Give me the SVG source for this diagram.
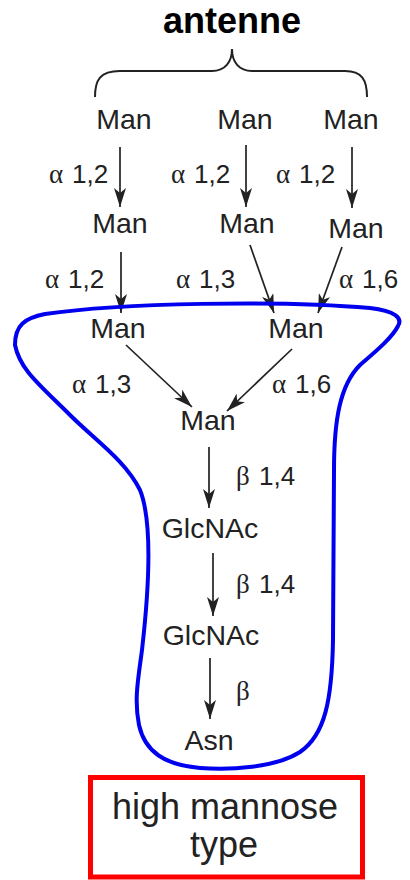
<svg xmlns="http://www.w3.org/2000/svg" width="410" height="880" viewBox="0 0 410 880">
<defs>
<style>
.n{font-family:"Liberation Sans",Arial,sans-serif;font-size:28.5px;fill:#222;text-anchor:middle}
.b{font-size:36px}
.l{font-family:"Liberation Sans",Arial,sans-serif;font-size:26px;fill:#222}
.g{font-family:"Liberation Serif","Times New Roman",serif;font-size:27px}
.c line{stroke:#222;stroke-width:1.7;marker-end:url(#ah)}
</style>
<marker id="ah" viewBox="0 0 19 12" refX="19" refY="6" markerWidth="19" markerHeight="12" markerUnits="userSpaceOnUse" orient="auto">
<path d="M0,0 L19,6 L0,12 L5,6 z" fill="#222"/>
</marker>
</defs>
<rect width="410" height="880" fill="#fff"/>
<g id="title">
<text x="232" y="33" font-family="Liberation Sans,Arial,sans-serif" font-weight="bold" font-size="36" fill="#000" text-anchor="middle">antenne</text>
<path d="M95,97 C95,80 100,71 120,71 L212,71 C225,71 232,62 232,49 C232,62 239,71 252,71 L345,71 C362,71 367,80 367,97" fill="none" stroke="#222" stroke-width="2"/>
</g>
<g id="man1a"><text class="n" x="124" y="129">Man</text></g>
<g id="man1b"><text class="n" x="245" y="129">Man</text></g>
<g id="man1c"><text class="n" x="351" y="129">Man</text></g>
<g id="man2a"><text class="n" x="120" y="233">Man</text></g>
<g id="man2b"><text class="n" x="247" y="233">Man</text></g>
<g id="man2c"><text class="n" x="356" y="238">Man</text></g>
<g id="man3a"><text class="n" x="118" y="338">Man</text></g>
<g id="man3b"><text class="n" x="296" y="338">Man</text></g>
<g id="man4"><text class="n" x="208" y="430">Man</text></g>
<g id="glc1"><text class="n" x="210" y="538">GlcNAc</text></g>
<g id="glc2"><text class="n" x="211" y="645">GlcNAc</text></g>
<g id="asn"><text class="n" x="209" y="750">Asn</text></g>
<g id="labels">
<text class="l" x="49" y="183"><tspan class="g">α</tspan><tspan x="72">1,2</tspan></text>
<text class="l" x="171" y="183"><tspan class="g">α</tspan><tspan x="194">1,2</tspan></text>
<text class="l" x="276" y="183"><tspan class="g">α</tspan><tspan x="299">1,2</tspan></text>
<text class="l" x="45" y="288"><tspan class="g">α</tspan><tspan x="68">1,2</tspan></text>
<text class="l" x="176" y="288"><tspan class="g">α</tspan><tspan x="199">1,3</tspan></text>
<text class="l" x="339" y="288"><tspan class="g">α</tspan><tspan x="362">1,6</tspan></text>
<text class="l" x="72" y="393"><tspan class="g">α</tspan><tspan x="95">1,3</tspan></text>
<text class="l" x="272" y="393"><tspan class="g">α</tspan><tspan x="295">1,6</tspan></text>
<text class="l" x="236" y="485"><tspan class="g">β</tspan><tspan x="259">1,4</tspan></text>
<text class="l" x="236" y="593"><tspan class="g">β</tspan><tspan x="259">1,4</tspan></text>
<text class="l" x="236" y="700"><tspan class="g">β</tspan></text>
</g>
<g id="connectors" class="c">
<line x1="120" y1="147" x2="120" y2="207"/>
<line x1="246" y1="145" x2="246" y2="207"/>
<line x1="352" y1="147" x2="352" y2="208"/>
<line x1="121" y1="252" x2="121" y2="313"/>
<line x1="250" y1="245" x2="274" y2="313"/>
<line x1="342" y1="247" x2="318" y2="313"/>
<line x1="126" y1="345" x2="192" y2="407"/>
<line x1="292" y1="349" x2="227" y2="411"/>
<line x1="209" y1="447" x2="209" y2="508"/>
<line x1="213" y1="553" x2="213" y2="616"/>
<line x1="210" y1="658" x2="210" y2="719"/>
</g>
<g id="highmannose">
<path d="M15,345 C15,325 25,318 45,314 C120,303 280,300 370,308 C395,311 403,318 398,326 C392,338 375,352 360,365 C340,385 334,420 334,470 L333,640 C332,700 325,735 300,752 C275,768 230,770 200,768 C165,765 145,752 139,725 C134,700 138,680 142,650 C150,580 152,520 140,490 C125,460 95,440 70,415 C40,385 20,370 15,345 Z" fill="none" stroke="#0000ee" stroke-width="4"/>
</g>
<g id="typebox">
<rect x="90.5" y="777.5" width="272" height="99.5" fill="none" stroke="#ff0000" stroke-width="5"/>
<text class="n b" x="225" y="819">high mannose</text>
<text class="n b" x="224" y="857">type</text>
</g>
</svg>
